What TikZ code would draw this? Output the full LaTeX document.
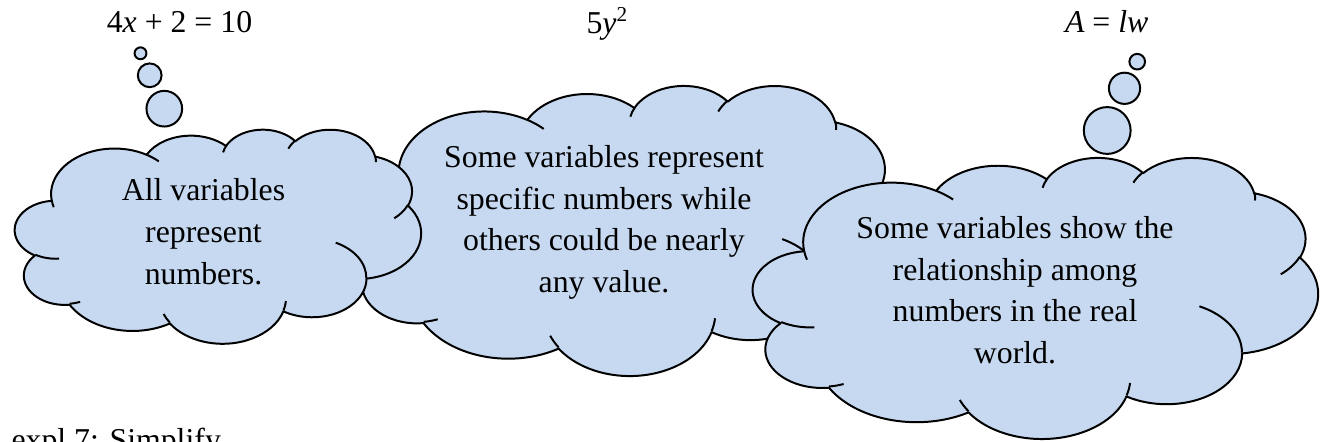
\documentclass[tikz,border=0pt]{standalone}
\usepackage{fontspec}
\setmainfont{Liberation Serif}
\definecolor{cloudblue}{RGB}{198,217,241}
\tikzset{
  cloudfill/.style={draw=black, fill=cloudblue, line width=0.75pt, line join=round},
  cloudtick/.style={draw=black, line width=0.75pt},
  txt/.style={inner sep=0pt, anchor=base, font=\fontsize{12}{15.77}\selectfont}
}
% Word-style elliptical arc: radii, start angle (visual), sweep
\newcommand\carc[4]{arc[x radius=#1, y radius=#2, start angle={pang(#1,#2,#3)}, delta angle={pdel(#1,#2,#3,#4)}]}
\newcommand\drawcloud[4]{%
\begin{scope}[shift={(#1,#2)}, xscale=#3/43.2, yscale=#4/43.2]
\path[cloudfill] (3.9,14.37)
  \carc{6.753}{9.190}{-190.4875}{123.7805}
  \carc{5.333}{7.267}{-144.1024}{89.9452}
  \carc{4.365}{5.945}{-145.8079}{99.7230}
  \carc{4.857}{6.595}{-130.9861}{117.2417}
  \carc{5.333}{7.273}{-78.7089}{109.0269}
  \carc{6.775}{9.220}{-46.2673}{130.2690}
  \carc{5.785}{7.867}{0.6250}{114.0333}
  \carc{6.752}{9.215}{22.4516}{115.1726}
  \carc{7.720}{10.543}{66.2426}{75.7110}
  \carc{4.360}{5.918}{-274.9421}{146.7356}
  \carc{4.345}{5.945}{-246.8285}{152.5189} -- cycle;
\path[cloudtick]
  (4.693,26.177) \carc{4.345}{5.945}{86.742}{26.4295}
  (6.928,34.899) \carc{4.360}{5.918}{73.6105}{11.4475}
  (16.478,39.090) \carc{6.752}{9.215}{137.6242}{14.0811}
  (28.827,34.751) \carc{6.752}{9.215}{6.4533}{15.9984}
  (34.129,22.954) \carc{5.785}{7.867}{-70.2924}{70.9174}
  (41.798,15.354) \carc{5.333}{7.273}{30.3180}{27.7515}
  (38.324,5.426) \carc{4.857}{6.595}{-13.7443}{14.8589}
  (29.078,3.952) \carc{4.857}{6.595}{-149.1815}{18.1954}
  (22.141,4.720) \carc{4.365}{5.945}{-163.4943}{17.6864}
  (14.000,5.192) \carc{6.753}{9.190}{-66.7070}{12.3194}
  (4.127,15.789) \carc{6.753}{9.190}{157.6544}{11.8582};
\end{scope}}
\begin{document}
\begin{tikzpicture}[x=0.37736pt, y=-0.37736pt,
  declare function={
    pang(\qa,\qb,\qc)=atan2(\qa*sin(\qc),\qb*cos(\qc));
    pdel(\qa,\qb,\qc,\qd)=(pang(\qa,\qb,\qc+\qd)-pang(\qa,\qb,\qc))-360*round(((pang(\qa,\qb,\qc+\qd)-pang(\qa,\qb,\qc))-\qd)/360);
  }]
\useasboundingbox (0,0) rectangle (1324,442);
\clip (0,0) rectangle (1324,442);
% middle cloud (behind)
\drawcloud{350}{85}{547}{290}
% left cloud
\drawcloud{15}{129}{406}{214}
\path[cloudfill] (164.3,108.7) circle[radius=17.83];
\path[cloudfill] (149.7,75.3) circle[radius=11.89];
\path[cloudfill] (140.5,53.3) circle[radius=5.94];
% right cloud
\drawcloud{753}{157}{565}{281}
\path[cloudfill] (1107.2,130.5) circle[radius=23.42];
\path[cloudfill] (1124.5,88.3) circle[radius=15.61];
\path[cloudfill] (1137.2,61.7) circle[radius=7.81];
% equations
\node[txt] (eq1) at (179.5,32.7) {4\textit{x} + 2 = 10};
\node[txt] (eq2) at (607.5,33.3) {5\textit{y}\textsuperscript{2}};
\node[txt] (eq3) at (1106.7,32.3) {\textit{A} = \textit{lw}};
% left cloud text
\node[txt] (l1) at (203.5,200.5) {All variables};
\node[txt] (l2) at (203.5,242.3) {represent};
\node[txt] (l3) at (203.5,284.1) {numbers.};
% middle cloud text
\node[txt] (m1) at (604,167.3) {Some variables represent};
\node[txt] (m2) at (604,209.1) {specific numbers while};
\node[txt] (m3) at (604,250.9) {others could be nearly};
\node[txt] (m4) at (604,292.7) {any value.};
% right cloud text
\node[txt] (r1) at (1015,238.3) {Some variables show the};
\node[txt] (r2) at (1015,280.1) {relationship among};
\node[txt] (r3) at (1015,321.9) {numbers in the real};
\node[txt] (r4) at (1015,363.7) {world.};
% bottom line
\node[txt, anchor=base west] (ex) at (11,450.5) {expl 7: Simplify};
\end{tikzpicture}
\end{document}
